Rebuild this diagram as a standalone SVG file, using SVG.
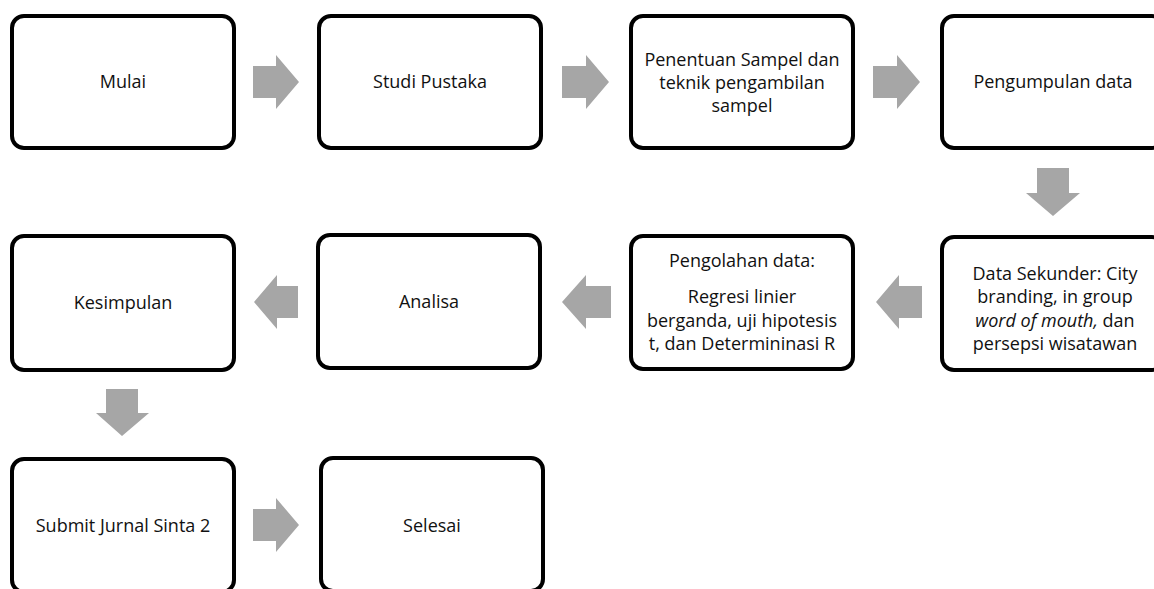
<svg xmlns="http://www.w3.org/2000/svg" width="1154" height="589" viewBox="0 0 1154 589">
<style>
.box{fill:#fff;stroke:#000;stroke-width:4}
.arr{fill:#a6a6a6}
text{font-family:"Open Sans","Noto Sans","Liberation Sans",sans-serif;font-size:18px;fill:#111;text-anchor:middle}
.it{font-style:italic}
</style>
<rect width="1154" height="589" fill="#fff"/>
<g id="connectors">
<polygon class="arr" points="253,66 276,66 276,55 299,82 276,109 276,98 253,98"/>
<polygon class="arr" points="562,66 586,66 586,55 609,82 586,109 586,98 562,98"/>
<polygon class="arr" points="873,66 897,66 897,55 920,82 897,109 897,98 873,98"/>
<polygon class="arr" points="1037,168 1069,168 1069,193 1080,193 1053,216 1026,193 1037,193"/>
<polygon class="arr" points="922,286 899,286 899,275 876,302 899,329 899,318 922,318"/>
<polygon class="arr" points="611,286 586,286 586,275 562,302 586,329 586,318 611,318"/>
<polygon class="arr" points="298,286 277,286 277,275 254,302 277,329 277,318 298,318"/>
<polygon class="arr" points="106,389 138,389 138,413 149,413 122,436 96,413 106,413"/>
<polygon class="arr" points="253,509 276,509 276,498 299,525 276,552 276,541 253,541"/>
</g>
<g id="n1"><rect class="box" x="12" y="16" width="222" height="132" rx="12"/><text x="123" y="88">Mulai</text></g>
<g id="n2"><rect class="box" x="319" y="16" width="222" height="132" rx="12"/><text x="430" y="88">Studi Pustaka</text></g>
<g id="n3"><rect class="box" x="631" y="16" width="222" height="132" rx="12"/><text x="742" y="66">Penentuan Sampel dan</text><text x="742" y="89">teknik pengambilan</text><text x="742" y="112">sampel</text></g>
<g id="n4"><rect class="box" x="942" y="16" width="222" height="132" rx="12"/><text x="1053" y="88">Pengumpulan data</text></g>
<g id="n5"><rect class="box" x="942" y="237" width="222" height="133" rx="12"/><text x="1055" y="280">Data Sekunder: City</text><text x="1055" y="303">branding, in group</text><text x="1055" y="327"><tspan class="it">word of mouth,</tspan> dan</text><text x="1055" y="350">persepsi wisatawan</text></g>
<g id="n6"><rect class="box" x="631" y="236" width="222" height="133" rx="12"/><text x="742" y="267">Pengolahan data:</text><text x="742" y="303">Regresi linier</text><text x="742" y="327">berganda, uji hipotesis</text><text x="742" y="350">t, dan Determininasi R</text></g>
<g id="n7"><rect class="box" x="318" y="235" width="222" height="133" rx="12"/><text x="429" y="308">Analisa</text></g>
<g id="n8"><rect class="box" x="12" y="236" width="222" height="134" rx="12"/><text x="123" y="309">Kesimpulan</text></g>
<g id="n9"><rect class="box" x="12" y="459" width="222" height="133" rx="12"/><text x="123" y="532">Submit Jurnal Sinta 2</text></g>
<g id="n10"><rect class="box" x="321" y="458" width="222" height="133" rx="12"/><text x="432" y="532">Selesai</text></g>
</svg>
